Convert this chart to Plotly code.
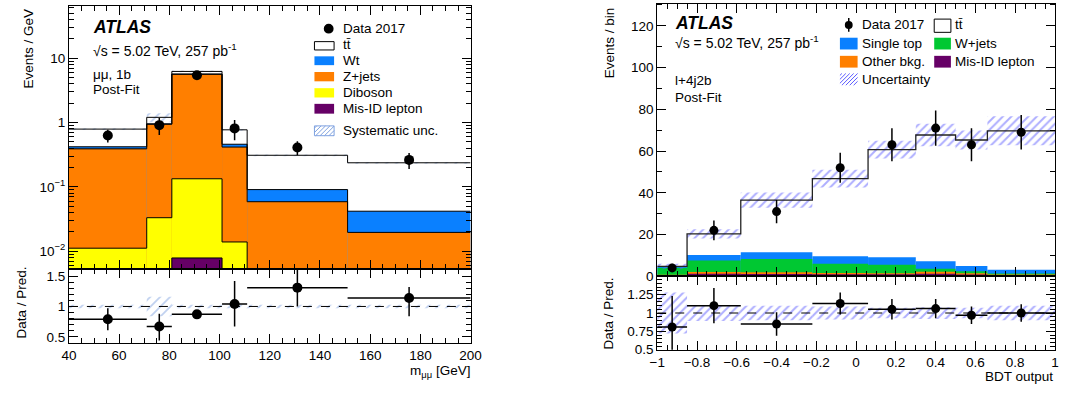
import numpy as np
import plotly.graph_objects as go

W, H = 1067, 394
FONT = "Liberation Sans"

# ---------------- left panel: m_mumu ----------------
mm_edges = [40, 71, 81, 101, 111, 151, 200]
mm_misid = [0.0, 0.0, 0.0079, 0.0, 0.0, 0.0]
mm_diboson = [0.0112, 0.0333, 0.126, 0.014, 0.003, 0.002]
mm_zjets = [0.379, 0.907, 5.47, 0.402, 0.056, 0.0177]
mm_wt = [0.03, 0.013, 0.05, 0.044, 0.032, 0.0223]
mm_ttbar = [0.37, 0.25, 0.55, 0.31, 0.219, 0.195]
mm_data = [0.63, 0.91, 5.4, 0.81, 0.41, 0.263]
mm_data_err = [0.14, 0.27, 0.52, 0.28, 0.10, 0.073]
mm_syst = [0.03, 0.16, 0.03, 0.03, 0.03, 0.03]
mm_ratio = [0.79, 0.67, 0.87, 1.04, 1.31, 1.14]
mm_ratio_up = [0.18, 0.21, 0.05, 0.38, 0.35, 0.18]
mm_ratio_dn = [0.18, 0.23, 0.05, 0.37, 0.31, 0.30]

# ---------------- right panel: BDT output ----------------
bdt_edges = [-1.0, -0.85, -0.58, -0.22, 0.06, 0.30, 0.50, 0.66, 1.0]
bdt_misid = [0.4, 1.2, 1.1, 1.0, 1.0, 1.2, 0.9, 0.6]
bdt_other = [0.3, 0.8, 0.8, 0.6, 0.5, 1.0, 0.6, 0.2]
bdt_wjets = [3.4, 5.5, 6.4, 4.4, 4.0, 1.4, 0.9, 0.5]
bdt_stop = [0.3, 2.7, 3.2, 3.6, 3.6, 3.6, 2.5, 1.8]
bdt_ttbar = [0.3, 10.1, 25.0, 37.2, 51.6, 60.5, 60.4, 66.6]
bdt_data = [4, 22, 31, 52, 63, 71, 63, 69]
bdt_data_err = [2.0, 4.7, 5.6, 7.2, 7.9, 8.4, 7.9, 8.3]
bdt_unc = [0.28, 0.11, 0.10, 0.09, 0.07, 0.08, 0.07, 0.10]
bdt_ratio = [0.81, 1.10, 0.85, 1.13, 1.05, 1.06, 0.97, 1.00]
bdt_ratio_err = [0.42, 0.24, 0.16, 0.15, 0.14, 0.13, 0.12, 0.12]

C_BLUE = "#0a80ff"
C_ORANGE = "#ff7f00"
C_YELLOW = "#ffff00"
C_PURPLE = "#660066"
C_GREEN = "#00c832"
C_HATCH_L = "#7fa2e0"
C_HATCH_R = "#5c5cff"


def px(x):
    return x / W


def py(y):
    return 1 - y / H


fig = go.Figure()


def centers(edges):
    e = np.array(edges, dtype=float)
    return (e[:-1] + e[1:]) / 2, np.diff(e)


def add_fill(edges, cum, color, xa, ya, floor):
    c, w = centers(edges)
    fig.add_trace(go.Bar(x=c, y=np.maximum(np.array(cum) - floor, 0), base=floor, width=w,
                         marker=dict(color=color, line=dict(width=0)),
                         xaxis=xa, yaxis=ya, showlegend=False, hoverinfo="skip"))


def add_step(edges, cum, xa, ya, floor, color="black", width=1.0):
    y = list(np.maximum(np.array(cum, dtype=float), floor)) + [max(cum[-1], floor)]
    fig.add_trace(go.Scatter(x=edges, y=y, mode="lines", line=dict(shape="hv", color=color, width=width),
                             xaxis=xa, yaxis=ya, showlegend=False, hoverinfo="skip"))


def add_hatch(edges, lo, hi, color, xa, ya, size=7, sol=0.25):
    c, w = centers(edges)
    lo = np.array(lo)
    hi = np.array(hi)
    fig.add_trace(go.Bar(x=c, y=hi - lo, base=lo, width=w,
                         marker=dict(color="rgba(0,0,0,0)", line=dict(width=0),
                                     pattern=dict(shape="/", fgcolor=color, bgcolor="rgba(0,0,0,0)",
                                                  size=size, solidity=sol)),
                         xaxis=xa, yaxis=ya, showlegend=False, hoverinfo="skip"))


# ---- left stack ----
floorL = 1e-5
l1 = np.array(mm_misid)
l2 = l1 + np.array(mm_diboson)
l3 = l2 + np.array(mm_zjets)
l4 = l3 + np.array(mm_wt)
l5 = l4 + np.array(mm_ttbar)
add_fill(mm_edges, l5, "white", "x", "y", floorL)
add_fill(mm_edges, l4, C_BLUE, "x", "y", floorL)
add_fill(mm_edges, l3, C_ORANGE, "x", "y", floorL)
add_fill(mm_edges, l2, C_YELLOW, "x", "y", floorL)
add_fill(mm_edges, l1, C_PURPLE, "x", "y", floorL)
s = np.array(mm_syst)
add_hatch(mm_edges, l5 * (1 - s), l5 * (1 + s), C_HATCH_L, "x", "y")
for lev in [l1, l2, l3, l4, l5]:
    add_step(mm_edges, lev, "x", "y", floorL)
cL, wL = centers(mm_edges)
fig.add_trace(go.Scatter(x=cL, y=mm_data, mode="markers", marker=dict(color="black", size=10),
                         error_y=dict(type="data", array=mm_data_err, color="black", thickness=1.5, width=0),
                         xaxis="x", yaxis="y", showlegend=False))
# ratio left
add_hatch(mm_edges, 1 - s, 1 + s, C_HATCH_L, "x2", "y2")
fig.add_trace(go.Scatter(x=[mm_edges[0], mm_edges[-1]], y=[1, 1], mode="lines",
                         line=dict(color="black", width=1, dash="dash"), xaxis="x2", yaxis="y2",
                         showlegend=False))
fig.add_trace(go.Scatter(x=cL, y=mm_ratio, mode="markers", marker=dict(color="black", size=10),
                         error_y=dict(type="data", symmetric=False, array=mm_ratio_up, arrayminus=mm_ratio_dn,
                                      color="black", thickness=1.5, width=0),
                         error_x=dict(type="data", array=wL / 2, color="black", thickness=1.5, width=0),
                         xaxis="x2", yaxis="y2", showlegend=False))

# ---- right stack ----
r1 = np.array(bdt_misid, dtype=float)
r2 = r1 + np.array(bdt_other)
r3 = r2 + np.array(bdt_wjets)
r4 = r3 + np.array(bdt_stop)
r5 = r4 + np.array(bdt_ttbar)
add_fill(bdt_edges, r4, C_BLUE, "x3", "y3", 0)
add_fill(bdt_edges, r3, C_GREEN, "x3", "y3", 0)
add_fill(bdt_edges, r2, C_ORANGE, "x3", "y3", 0)
add_fill(bdt_edges, r1, C_PURPLE, "x3", "y3", 0)
u = np.array(bdt_unc)
add_hatch(bdt_edges, r5 * (1 - u), r5 * (1 + u), C_HATCH_R, "x3", "y3", size=6, sol=0.33)
add_step(bdt_edges, r5, "x3", "y3", -1, color="#222222", width=1.3)
cR, wR = centers(bdt_edges)
fig.add_trace(go.Scatter(x=cR, y=bdt_data, mode="markers", marker=dict(color="black", size=9),
                         error_y=dict(type="data", array=bdt_data_err, color="black", thickness=1.5, width=0),
                         xaxis="x3", yaxis="y3", showlegend=False))
add_hatch(bdt_edges, 1 - u, 1 + u, C_HATCH_R, "x4", "y4", size=6, sol=0.33)
fig.add_trace(go.Scatter(x=[bdt_edges[0], bdt_edges[-1]], y=[1, 1], mode="lines",
                         line=dict(color="black", width=1, dash="dash"), xaxis="x4", yaxis="y4",
                         showlegend=False))
fig.add_trace(go.Scatter(x=cR, y=bdt_ratio, mode="markers", marker=dict(color="black", size=9),
                         error_y=dict(type="data", array=bdt_ratio_err, color="black", thickness=1.5, width=0),
                         error_x=dict(type="data", array=wR / 2, color="black", thickness=1.5, width=0),
                         xaxis="x4", yaxis="y4", showlegend=False))

# ---------------- axes ----------------
tf = dict(family=FONT, size=13.5, color="black")


def ax(**kw):
    d = dict(showline=True, linecolor="black", linewidth=1, mirror="allticks", ticks="inside",
             tickcolor="black", ticklen=9, tickwidth=1, showgrid=False, zeroline=False, tickfont=tf)
    d.update(kw)
    return d


xdomL = [px(62), px(471)]
xdomR = [px(661), px(1066)]
log_minor = [m * 10.0 ** e for e in range(-3, 2) for m in range(2, 10)]

fig.update_layout(
    width=W, height=H, autosize=False,
    margin=dict(l=0, r=0, t=0, b=0, pad=0),
    paper_bgcolor="white", plot_bgcolor="white",
    barmode="overlay", showlegend=False,
    font=dict(family=FONT, color="black"),
    xaxis=ax(domain=xdomL, anchor="y", range=[40, 200], dtick=20, showticklabels=False,
             minor=dict(ticks="inside", ticklen=5, dtick=5, tickcolor="black")),
    yaxis=ax(domain=[py(275), py(6)], anchor="x", type="log", range=[-2.28, 1.81],
             tickvals=[0.01, 0.1, 1, 10], ticktext=["10<sup>−2</sup>", "10<sup>−1</sup>", "1", "10"],
             minor=dict(ticks="inside", ticklen=5, tickvals=log_minor, tickcolor="black")),
    xaxis2=ax(domain=xdomL, anchor="y2", range=[40, 200], dtick=20,
              minor=dict(ticks="inside", ticklen=5, dtick=5, tickcolor="black")),
    yaxis2=ax(domain=[py(350), py(275)], anchor="x2", range=[0.4, 1.61],
              tickvals=[0.5, 1, 1.5], ticktext=["0.5", "1", "1.5"],
              minor=dict(ticks="inside", ticklen=5, dtick=0.1, tick0=0, tickcolor="black")),
    xaxis3=ax(domain=xdomR, anchor="y3", range=[-1, 1], dtick=0.2, showticklabels=False,
              minor=dict(ticks="inside", ticklen=5, dtick=0.05, tick0=0, tickcolor="black")),
    yaxis3=ax(domain=[py(282), py(4)], anchor="x3", range=[0, 130.5], dtick=20,
              minor=dict(ticks="inside", ticklen=5, dtick=10, tickcolor="black")),
    xaxis4=ax(domain=xdomR, anchor="y4", range=[-1, 1],
              tickvals=[-1, -0.8, -0.6, -0.4, -0.2, 0, 0.2, 0.4, 0.6, 0.8, 1],
              ticktext=["−1", "−0.8", "−0.6", "−0.4", "−0.2", "0", "0.2", "0.4", "0.6", "0.8", "1"],
              minor=dict(ticks="inside", ticklen=5, dtick=0.05, tick0=0, tickcolor="black")),
    yaxis4=ax(domain=[py(357), py(282)], anchor="x4", range=[0.5, 1.5],
              tickvals=[0.5, 0.75, 1, 1.25], ticktext=["0.5", "0.75", "1", "1.25"],
              minor=dict(ticks="inside", ticklen=5, dtick=0.05, tick0=0, tickcolor="black")),
)

# ---------------- text ----------------
ann = []
shapes = []


def text(x, y, s, size=13.5, anchor="left", angle=0):
    ann.append(dict(x=px(x), y=py(y), xref="paper", yref="paper", text=s, showarrow=False,
                    xanchor=anchor, yanchor="middle", textangle=angle,
                    font=dict(family=FONT, size=size, color="black")))


def rect(x0, y0, x1, y1, fill, line_color=None, lw=1):
    shapes.append(dict(type="rect", xref="paper", yref="paper", x0=px(x0), x1=px(x1),
                       y0=py(y1), y1=py(y0), fillcolor=fill,
                       line=dict(color=line_color if line_color else fill, width=lw if line_color else 0)))


def hatch_box(x0, y0, x1, y1, color, step=4.0, outline=None):
    k = x0 + y0 + step / 2
    while k < x1 + y1:
        xa = max(x0, k - y1)
        xb = min(x1, k - y0)
        if xb > xa:
            shapes.append(dict(type="line", xref="paper", yref="paper",
                               x0=px(xa), y0=py(k - xa), x1=px(xb), y1=py(k - xb),
                               line=dict(color=color, width=1)))
        k += step
    if outline:
        shapes.append(dict(type="rect", xref="paper", yref="paper", x0=px(x0), x1=px(x1),
                           y0=py(y1), y1=py(y0), line=dict(color=outline, width=1)))


def dot(x, y, r=4.5, bar=0):
    if bar:
        shapes.append(dict(type="line", xref="paper", yref="paper", x0=px(x), x1=px(x),
                           y0=py(y + bar), y1=py(y - bar), line=dict(color="black", width=1.5)))
    shapes.append(dict(type="circle", xref="paper", yref="paper", x0=px(x - r), x1=px(x + r),
                       y0=py(y + r), y1=py(y - r), fillcolor="black", line=dict(width=0)))


# left texts
text(85, 28, "<b><i>ATLAS</i></b>", size=17.5)
text(85, 51.5, "√s = 5.02 TeV, 257 pb<sup>-1</sup>", size=14)
text(85, 76, "μμ, 1b", size=13.5)
text(85, 91, "Post-Fit", size=13.5)
# left legend
dot(326.5, 29.3, r=5)
text(339, 29.3, "Data 2017")
rect(312, 42.5, 332, 51, "white", "black")
text(339, 45.5, "tt\u0304")
rect(312, 57.5, 332, 66.5, C_BLUE)
text(339, 62, "Wt")
rect(312, 73.5, 332, 83, C_ORANGE)
text(339, 78.3, "Z+jets")
rect(312, 90, 332, 99.5, C_YELLOW)
text(339, 94.7, "Diboson")
rect(312, 106, 332, 116, C_PURPLE)
text(339, 111, "Mis-ID lepton")
hatch_box(312, 128.5, 332, 138.5, C_HATCH_L, step=4.5, outline=C_HATCH_L)
text(339, 133.3, "Systematic unc.")

# right texts
text(677, 23.3, "<b><i>ATLAS</i></b>", size=17.5)
text(677, 43.3, "√s = 5.02 TeV, 257 pb<sup>-1</sup>", size=14)
text(677, 81.7, "l+4j2b", size=13.5)
text(677, 100, "Post-Fit", size=13.5)
# right legend
dot(856, 25.5, r=4, bar=7)
text(867, 25, "Data 2017")
rect(943, 19.5, 960, 33, "white", "black")
text(962, 25, "tt\u0304")
rect(847, 38.5, 865, 50.5, C_BLUE)
text(867, 44.3, "Single top")
rect(943, 38.5, 960, 50.5, C_GREEN)
text(962, 44.3, "W+jets")
rect(847, 57, 865, 69, C_ORANGE)
text(867, 62.7, "Other bkg.")
rect(943, 57, 960, 69, C_PURPLE)
text(962, 62.7, "Mis-ID lepton")
hatch_box(847, 75, 865, 87, C_HATCH_R, step=4.0)
text(867, 81, "Uncertainty")

# axis titles
text(21, 50, "Events / GeV", size=13.5, anchor="center", angle=-90)
text(14, 309, "Data / Pred.", size=13.5, anchor="center", angle=-90)
text(612, 44, "Events / bin", size=13.5, anchor="center", angle=-90)
text(611, 320, "Data / Pred.", size=13.5, anchor="center", angle=-90)
text(472, 379, "m<sub>μμ</sub> [GeV]", size=13.5, anchor="right")
text(1066, 384, "BDT output", size=13.5, anchor="right")

fig.update_layout(annotations=ann, shapes=shapes)
fig.write_html("out.html")
